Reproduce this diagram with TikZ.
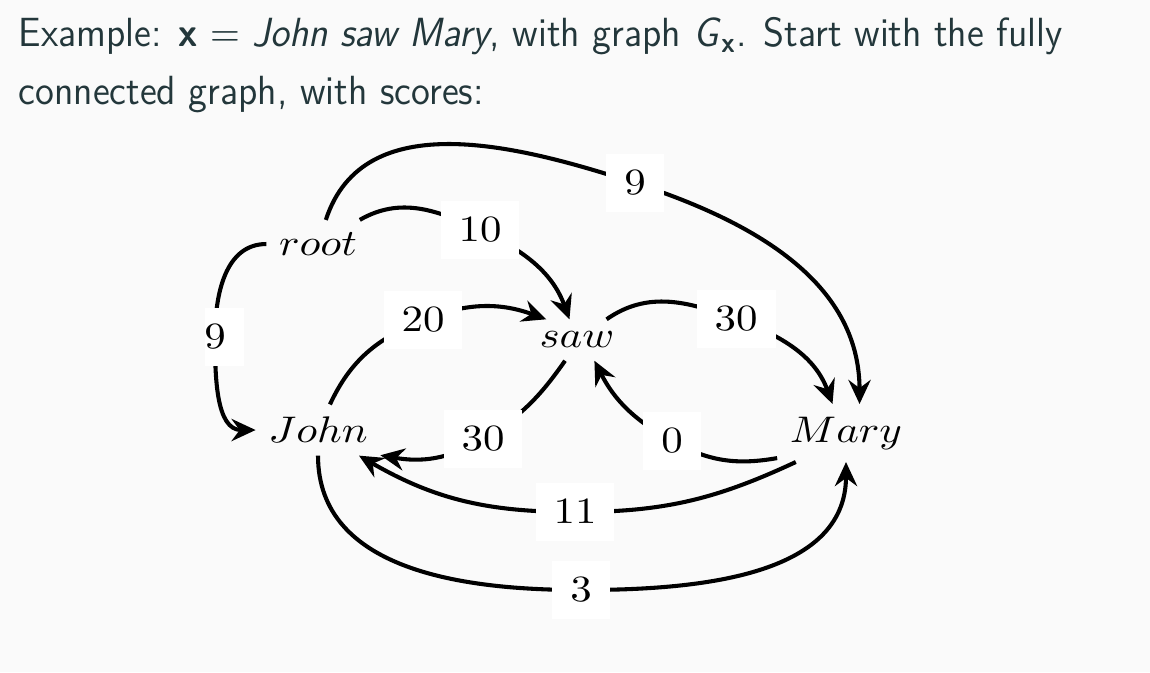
\documentclass[tikz,border=0pt]{standalone}
\usepackage{amsmath}
\usetikzlibrary{arrows.meta}
\definecolor{bgcol}{HTML}{FAFAFA}
\definecolor{hdcol}{HTML}{23373B}
\newcommand{\xw}[1]{\scalebox{1.16}[1]{#1}}
\newcommand{\xn}[1]{\scalebox{0.945}[1]{#1}}
\tikzset{
  word/.style={inner sep=3.24pt},
  score/.style={fill=white, inner xsep=4.86pt, inner ysep=4.6pt},
  arc/.style={line width=1.1pt, -{Stealth[length=6.5pt,width=6pt,inset=2.2pt]}},
  head/.style={anchor=base west, inner sep=0pt, text=hdcol, font=\sffamily\fontsize{11}{13}\selectfont},
}

\begin{document}
\begin{tikzpicture}[x=0.27pt,y=0.27pt]
\fill[bgcol] (0,0) rectangle (1150,672);
\useasboundingbox (0,0) rectangle (1150,672);
% header text
\node[head] (hd1) at (18,626)
  {\xn{Example: \textbf{x} $=$ \textit{John saw Mary}, with graph \textit{G}\textsubscript{\textbf{x}}. Start with the fully}};
\node[head] (hd2) at (18,568) {\xn{connected graph, with scores:}};

\begin{scope}
\clip (205,0) rectangle (1150,672);
\node[word] (root) at (318,428) {\xw{$root$}};
\node[word] (saw) at (577,332) {\xw{$saw$}};
\node[word] (john) at (318,242) {\xw{$John$}};
\node[word] (mary) at (846,239) {\xw{$Mary$}};

\coordinate (s9a) at (215,335);
\coordinate (s10) at (480,442);
\coordinate (s9b) at (635,489);
\coordinate (s20) at (423,352);
\coordinate (s30a) at (736,353);
\coordinate (s30b) at (483,233);
\coordinate (s0) at (672,231);
\coordinate (s11) at (575,160);
\coordinate (s3) at (581,82);

\draw[arc] (root) to[out=180,in=90] (s9a) to[out=-90,in=180] (john);
\draw[arc] (root) to[out=30,in=155] (s10) to[out=-25,in=110] (saw.110);
\draw[arc] (root) to[out=72,in=162] (s9b) to[out=-18,in=90] (mary.65);
\draw[arc] (john) to[out=65,in=202] (s20) to[out=22,in=160] (saw.146);
\draw[arc] (saw) to[out=35,in=160] (s30a) to[out=-20,in=110] (mary.115);
\draw[arc] (saw.-120) to[out=-125,in=31] (s30b) to[out=211,in=-10] (john.-22);
\draw[arc] (mary.-160) to[out=190,in=-29] (s0) to[out=151,in=-63] (saw.-50);
\draw[arc] (mary.-150) to[out=205,in=0] (s11) to[out=180,in=-30] (john.-32);
\draw[arc] (john.-90) to[out=-90,in=180] (s3) to[out=0,in=-90] (mary.-90);

\node[score] at (s9a) {\xw{$9$}};
\node[score] at (s10) {\xw{$10$}};
\node[score] at (s9b) {\xw{$9$}};
\node[score] at (s20) {\xw{$20$}};
\node[score] at (s30a) {\xw{$30$}};
\node[score] at (s30b) {\xw{$30$}};
\node[score] at (s0) {\xw{$0$}};
\node[score] at (s11) {\xw{$11$}};
\node[score] at (s3) {\xw{$3$}};
\end{scope}
\end{tikzpicture}
\end{document}
